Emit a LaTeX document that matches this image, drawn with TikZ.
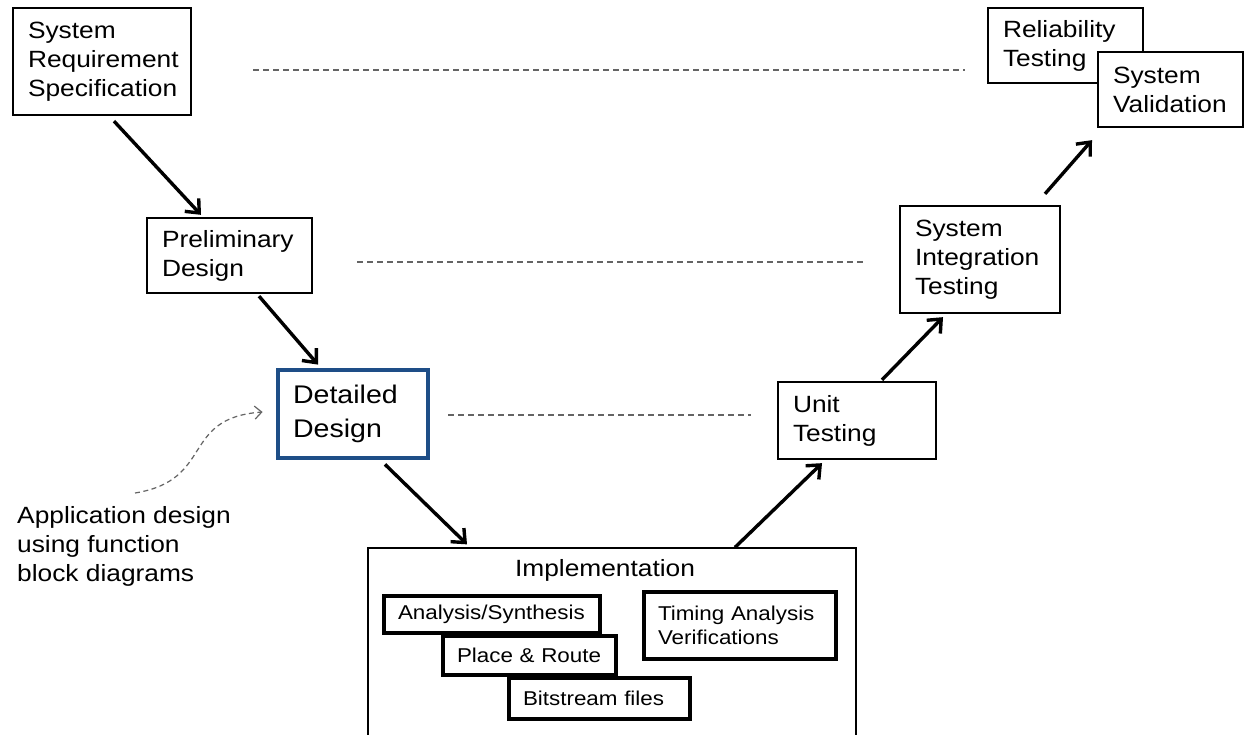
\documentclass[tikz,border=0pt]{standalone}
\usepackage{fontspec}
\setmainfont[FakeStretch=1.12]{Liberation Sans}
\usetikzlibrary{arrows.meta,calc}
\definecolor{ddblue}{RGB}{30,78,135}
\definecolor{dashgray}{RGB}{100,100,100}
\tikzset{
  box/.style={draw, line width=2.3pt, fill=white, align=left, inner xsep=15pt, inner ysep=0pt,
    font=\fontsize{23.5}{29}\selectfont},
  sbox/.style={draw, line width=3.4pt, fill=white, align=left, inner xsep=14pt, inner ysep=0pt,
    font=\fontsize{20}{24}\selectfont},
  arr/.style={line width=3.4pt, -{Straight Barb[length=11pt,width=19pt]}},
  guide/.style={draw=dashgray, line width=1.2pt, dash pattern=on 6pt off 4pt},
}
\begin{document}
\begin{tikzpicture}[x=1pt,y=-1pt]
\clip (0,0) rectangle (1244,734);
\fill[white] (0,0) rectangle (1244,734);

% left branch
\node[box, text width=148pt, minimum height=107pt] (srs) at (102,61.5) {System\\Requirement\\Specification};
\node[box, text width=135pt, minimum height=75pt] (prelim) at (229.5,255.5) {Preliminary\\Design};
\node[box, draw=ddblue, line width=4.8pt, text width=120pt, minimum height=88pt,
  font=\fontsize{25.5}{34}\selectfont] (detail) at (353,414) {Detailed\\Design};

% implementation
\node[draw, line width=1.3pt, fill=white, minimum width=488pt, minimum height=212pt, inner sep=0pt] (impl) at (612,654) {};
\node[font=\fontsize{23.5}{29}\selectfont, inner sep=0pt] (impltitle) at (605,570) {Implementation};
\node[sbox, text width=188pt, minimum height=37pt] (anasyn) at (492,614.5) {Analysis/Synthesis};
\node[sbox, text width=145pt, minimum height=39pt] (pnr) at (529.5,655.5) {Place \& Route};
\node[sbox, text width=153pt, minimum height=41pt] (bits) at (599.5,698.5) {Bitstream files};
\node[sbox, text width=164pt, minimum height=67pt] (timing) at (740,625.5) {Timing Analysis\\Verifications};

% right branch
\node[box, text width=128pt, minimum height=77pt] (unit) at (857,420.5) {Unit\\Testing};
\node[box, text width=130pt, minimum height=107pt] (sit) at (980,259.5) {System\\Integration\\Testing};
\node[box, text width=125pt, minimum height=75pt] (rel) at (1065.5,45.5) {Reliability\\Testing};
\node[box, text width=115pt, minimum height=75pt] (sv) at (1170.5,89.5) {System\\Validation};

% annotation
\node[font=\fontsize{23.5}{29}\selectfont, align=left, anchor=west, inner sep=0pt] (note) at (17,546)
  {Application design\\using function\\block diagrams};
\coordinate (notetail) at (135,493);

% arrows
\draw[arr] ($(srs.south)+(12,5)$) -- ($(prelim.north)+(-28.5,-2)$);
\draw[arr] ($(prelim.south)+(29.5,2)$) -- ($(detail.north)+(-35,-3)$);
\draw[arr] ($(detail.south)+(32,4)$) -- ($(impl.north)+(-145,-3)$);
\draw[arr] ($(impl.north)+(123,0)$) -- ($(unit.south)+(-35,3)$);
\draw[arr] ($(unit.north)+(25,-1)$) -- ($(sit.south)+(-37,3)$);
\draw[arr] ($(sit.north)+(65,-11)$) -- ($(sv.south)+(-78.5,12)$);

% dashed guides
\draw[guide] ($(srs.east)+(61,8.5)$) -- ($(rel.west)+(-22,24.5)$);
\draw[guide] ($(prelim.east)+(44,6.5)$) -- ($(sit.west)+(-33,2.5)$);
\draw[guide] ($(detail.east)+(18,1)$) -- ($(unit.west)+(-26,-5.5)$);

% curved annotation arrow
\draw[guide, line width=1.2pt, dash pattern=on 5pt off 3.5pt, -{Straight Barb[length=7pt,width=13pt]}]
  (notetail) .. controls (215,480) and (180,418) .. ($(detail.west)+(-13,-2)$);
\end{tikzpicture}
\end{document}
